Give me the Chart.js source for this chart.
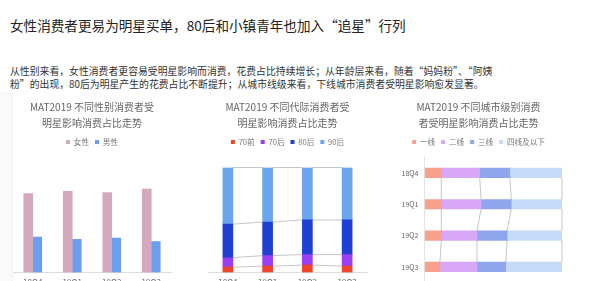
<!DOCTYPE html>
<html>
<head>
<meta charset="utf-8">
<script src="https://cdn.jsdelivr.net/npm/chart.js@4.4.1/dist/chart.umd.min.js"></script>
<style>
html,body{margin:0;padding:0;width:600px;height:281px;overflow:hidden;background:#fff;font-family:"Noto Sans CJK SC","Noto Sans",sans-serif;}
#h1{position:absolute;left:10px;top:14.5px;font-size:13.6px;color:#222;white-space:nowrap;}
#p{position:absolute;left:10px;top:65px;font-size:9.85px;line-height:12.7px;color:#333;white-space:nowrap;}
#edge{position:absolute;left:0;top:92px;width:12px;height:200px;background:#fafafa;border-right:1px solid #f1f1f1;}
.c{position:absolute;}
#c1{left:0;top:92px;}
#c2{left:196px;top:92px;}
#c3{left:393px;top:92px;}
</style>
</head>
<body>
<div id="h1">女性消费者更易为明星买单，80后和小镇青年也加入“追星”行列</div>
<div id="p">从性别来看，女性消费者更容易受明星影响而消费，花费占比持续增长；从年龄层来看，随着“妈妈粉”、“阿姨<br>粉”的出现，80后为明星产生的花费占比不断提升；从城市线级来看，下线城市消费者受明星影响愈发显著。</div>
<div id="edge"></div>
<div class="c" id="c1"><canvas id="k1" width="186" height="200"></canvas></div>
<div class="c" id="c2"><canvas id="k2" width="186" height="200"></canvas></div>
<div class="c" id="c3"><canvas id="k3" width="207" height="210"></canvas></div>
<script>
// ---- data ----
const quarters = ["18Q4", "19Q1", "19Q2", "19Q3"];
// Chart 1: gender share (%)
const female = [69, 71, 70, 73];
const male = [31, 29, 30, 27];
// Chart 2: generation share (%)
const gen70before = [5, 6, 7, 6];
const gen70after = [9, 10, 10, 11];
const gen80after = [32, 32, 33, 33];
const gen90after = [54, 52, 50, 50];
// Chart 3: city tier share (%)
const tier1 = [12, 12, 12, 11];
const tier2 = [28, 29, 26, 27];
const tier3 = [22, 22, 22, 21];
const tier4plus = [38, 37, 40, 41];

const FONT = '"Noto Sans CJK SC","Noto Sans",sans-serif';
Chart.defaults.font.family = FONT;
Chart.defaults.animation = false;
Chart.defaults.responsive = false;

const titleOpts = (lines) => ({
  display: true, text: lines, color: '#666',
  font: {size: 10, weight: 'normal', family: FONT, lineHeight: 1.56},
  padding: {top: 7.5, bottom: 1.5}
});
const legendOpts = {
  display: true, position: 'top',
  labels: {boxWidth: 4, boxHeight: 4, color: '#777', font: {size: 7.6, family: FONT}, padding: 6}
};

// extra space under the legend (per chart)
const legendGap = (extra) => ({
  id: 'legendGap',
  beforeInit(chart) {
    const lg = chart.legend;
    if (!lg) return;
    const orig = lg.fit;
    lg.fit = function () { orig.call(this); this.height += extra; };
  }
});

// series lines plugin (Excel-like connectors between stacked bars)
const seriesLines = {
  id: 'seriesLines',
  afterDatasetsDraw(chart) {
    const ctx = chart.ctx;
    const horiz = chart.options.indexAxis === 'y';
    ctx.save();
    ctx.strokeStyle = 'rgba(160,160,160,0.75)';
    ctx.lineWidth = 0.8;
    chart.data.datasets.forEach((ds, di) => {
      const els = chart.getDatasetMeta(di).data;
      for (let i = 0; i < els.length - 1; i++) {
        const a = els[i], b = els[i + 1];
        ctx.beginPath();
        if (horiz) {
          ctx.moveTo(a.x, a.y + a.height / 2);
          ctx.lineTo(b.x, b.y - b.height / 2);
        } else {
          ctx.moveTo(a.x + a.width / 2, a.y);
          ctx.lineTo(b.x - b.width / 2, b.y);
        }
        ctx.stroke();
      }
    });
    ctx.restore();
  }
};

// Chart 1
new Chart(document.getElementById('k1'), {
  type: 'bar',
  data: {
    labels: quarters,
    datasets: [
      {label: '女性', data: female, backgroundColor: '#d5a9bd', barThickness: 9},
      {label: '男性', data: male, backgroundColor: '#6a9ff0', barThickness: 9}
    ]
  },
  options: {
    layout: {padding: {left: 13, right: 15, top: 0, bottom: 0}},
    plugins: {title: titleOpts(['MAT2019 不同性别消费者受', '明星影响消费占比走势']), legend: legendOpts, tooltip: {enabled: false}},
    scales: {
      x: {grid: {display: false, drawTicks: false}, border: {display: true, color: '#ddd'},
          ticks: {color: '#666', font: {size: 8}, padding: 5}},
      y: {display: false, min: 0, max: 100}
    }
  },
  plugins: [legendGap(2.4)]
});

// Chart 2
new Chart(document.getElementById('k2'), {
  type: 'bar',
  data: {
    labels: quarters,
    datasets: [
      {label: '70前', data: gen70before, backgroundColor: '#f0452b', barThickness: 10},
      {label: '70后', data: gen70after, backgroundColor: '#9b3df2', barThickness: 10},
      {label: '80后', data: gen80after, backgroundColor: '#1f40d4', barThickness: 10},
      {label: '90后', data: gen90after, backgroundColor: '#6aa6ee', barThickness: 10}
    ]
  },
  options: {
    layout: {padding: {left: 12, right: 15, top: 0, bottom: 0}},
    plugins: {title: titleOpts(['MAT2019 不同代际消费者受', '明星影响消费占比走势']), legend: legendOpts, tooltip: {enabled: false}},
    scales: {
      x: {stacked: true, grid: {display: false, drawTicks: false}, border: {display: true, color: '#ddd'},
          ticks: {color: '#666', font: {size: 8}, padding: 5}},
      y: {stacked: true, display: false, min: 0, max: 100}
    }
  },
  plugins: [legendGap(11.7), seriesLines]
});

// Chart 3
new Chart(document.getElementById('k3'), {
  type: 'bar',
  data: {
    labels: quarters,
    datasets: [
      {label: '一线', data: tier1, backgroundColor: '#f8a08c', barThickness: 9.5},
      {label: '二线', data: tier2, backgroundColor: '#d8a8f6', barThickness: 9.5},
      {label: '三线', data: tier3, backgroundColor: '#8fa5ee', barThickness: 9.5},
      {label: '四线及以下', data: tier4plus, backgroundColor: '#c6dbf7', barThickness: 9.5}
    ]
  },
  options: {
    indexAxis: 'y',
    layout: {padding: {left: 2, right: 38, top: 0, bottom: 19.5}},
    plugins: {title: titleOpts(['MAT2019 不同城市级别消费', '者受明星影响消费占比走势']), legend: legendOpts, tooltip: {enabled: false}},
    scales: {
      y: {stacked: true, grid: {display: false, drawTicks: false}, border: {display: true, color: '#e3e3e3'},
          ticks: {color: '#666', font: {size: 7}, padding: 6.5}},
      x: {stacked: true, display: false, min: 0, max: 100}
    }
  },
  plugins: [legendGap(1.5), seriesLines]
});
</script>
</body>
</html>
